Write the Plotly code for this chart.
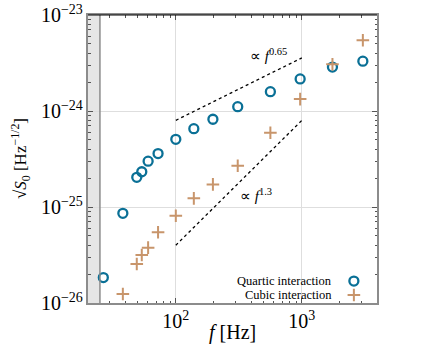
import numpy as np
import plotly.graph_objects as go

# quartic interaction (circles)
quartic_f = [26.6, 38, 49, 53.7, 60.3, 72.3, 100, 139, 197, 310, 563, 970, 1750, 3050]
quartic_s = [1.84e-26, 8.6e-26, 2.04e-25, 2.33e-25, 3.0e-25, 3.6e-25, 5.07e-25,
             6.54e-25, 8.2e-25, 1.11e-24, 1.59e-24, 2.16e-24, 2.87e-24, 3.3e-24]

# cubic interaction (crosses)
cubic_f = [38, 49, 53.7, 60.3, 72.3, 100, 139, 197, 310, 563, 970, 1750, 3050]
cubic_s = [1.24e-26, 2.55e-26, 3.16e-26, 3.77e-26, 5.45e-26, 8.1e-26, 1.23e-25,
           1.72e-25, 2.69e-25, 5.94e-25, 1.33e-24, 3.06e-24, 5.45e-24]

# power-law guide lines: amplitude at 100 Hz and exponent
guide_f = np.array([100.0, 1000.0])
guide_amp = [8.0e-25, 4.0e-26]
guide_pow = [0.65, 1.3]
guide_labels = ["∝ <i>f</i><sup>0.65</sup>", "∝ <i>f</i><sup>1.3</sup>"]
guide_label_pos = [(541, 3.83e-24), (434, 1.33e-25)]

band = [20, 25]  # shaded region in Hz

blue = "#0a7096"
tan = "#c8956b"
font = "Liberation Serif"

fig = go.Figure()

for amp, p in zip(guide_amp, guide_pow):
    fig.add_trace(go.Scatter(x=guide_f, y=amp * (guide_f / 100.0) ** p, mode="lines",
                             line=dict(color="black", width=1.3, dash="dot"),
                             showlegend=False, hoverinfo="skip"))

circle_marker = dict(symbol="circle-open", size=9, color=blue, line=dict(width=2.3, color=blue))
cross_marker = dict(symbol="cross-thin-open", size=9, color=tan, line=dict(width=2, color=tan))

fig.add_trace(go.Scatter(x=quartic_f, y=quartic_s, mode="markers", name="Quartic interaction",
                         marker=circle_marker, showlegend=False))
fig.add_trace(go.Scatter(x=cubic_f, y=cubic_s, mode="markers", name="Cubic interaction",
                         marker=cross_marker, showlegend=False))

# hand made legend (symbols to the right of the text)
legend_names = ["Quartic interaction", "Cubic interaction"]
legend_y = [0.076, 0.028]
fig.add_trace(go.Scatter(x=[0.92], y=[legend_y[0]], xaxis="x2", yaxis="y2", mode="markers",
                         marker=circle_marker, showlegend=False, hoverinfo="skip"))
fig.add_trace(go.Scatter(x=[0.92], y=[legend_y[1]], xaxis="x2", yaxis="y2", mode="markers",
                         marker=cross_marker, showlegend=False, hoverinfo="skip"))
for name, yy in zip(legend_names, legend_y):
    fig.add_annotation(x=0.85, y=yy, xref="paper", yref="paper", text=name,
                       showarrow=False, xanchor="right", yanchor="middle",
                       font=dict(family=font, size=12.5, color="black"))

for txt, (lx, ly) in zip(guide_labels, guide_label_pos):
    fig.add_annotation(x=np.log10(lx), y=np.log10(ly), text=txt, showarrow=False,
                       font=dict(family=font, size=15, color="black"))

# axis titles as annotations so they can sit exactly where the original has them
fig.add_annotation(x=0.5, y=-0.104, xref="paper", yref="paper", text="<i>f</i> [Hz]",
                   showarrow=False, xanchor="center", yanchor="middle",
                   font=dict(family=font, size=20, color="black"))
fig.add_annotation(x=-0.235, y=0.5, xref="paper", yref="paper",
                   text="√<i>S</i><sub>0</sub> [Hz<sup>−1/2</sup>]", textangle=-90,
                   showarrow=False, xanchor="center", yanchor="middle",
                   font=dict(family=font, size=17, color="black"))

fig.add_shape(type="rect", x0=band[0], x1=band[1], y0=0, y1=1, xref="x", yref="paper",
              fillcolor="#e6e6e6", line=dict(width=0), layer="below")
fig.add_shape(type="line", x0=band[1], x1=band[1], y0=0, y1=1, xref="x", yref="paper",
              line=dict(color="#8c8c8c", width=1.5))
fig.add_shape(type="line", x0=0, x1=1, y0=1, y1=1, xref="paper", yref="paper",
              line=dict(color="black", width=1.2))

axis_common = dict(
    type="log", showline=True, linecolor="#8c8c8c", linewidth=2, mirror="allticks",
    ticks="inside", ticklen=5, tickcolor="#555555", exponentformat="power", dtick=1,
    showgrid=True, gridcolor="#dedede", gridwidth=1, zeroline=False, automargin=False,
    minor=dict(ticks="inside", ticklen=2.5, tickcolor="#555555", showgrid=False),
    tickfont=dict(family=font, size=16, color="black"),
)

fig.update_layout(
    width=436, height=354,
    margin=dict(l=88, r=59, t=15, b=51),
    paper_bgcolor="white", plot_bgcolor="white",
    font=dict(family=font, color="black"),
    xaxis=dict(range=[np.log10(20.1), np.log10(3950)], **axis_common),
    yaxis=dict(range=[-26, -23], **axis_common),
    xaxis2=dict(overlaying="x", range=[0, 1], visible=False),
    yaxis2=dict(overlaying="y", range=[0, 1], visible=False),
)

# drop the default body margin so the figure sits at the page corner
fig.write_html("out.html", config={"displayModeBar": False},
               post_script="document.body.style.margin = '0px';")
